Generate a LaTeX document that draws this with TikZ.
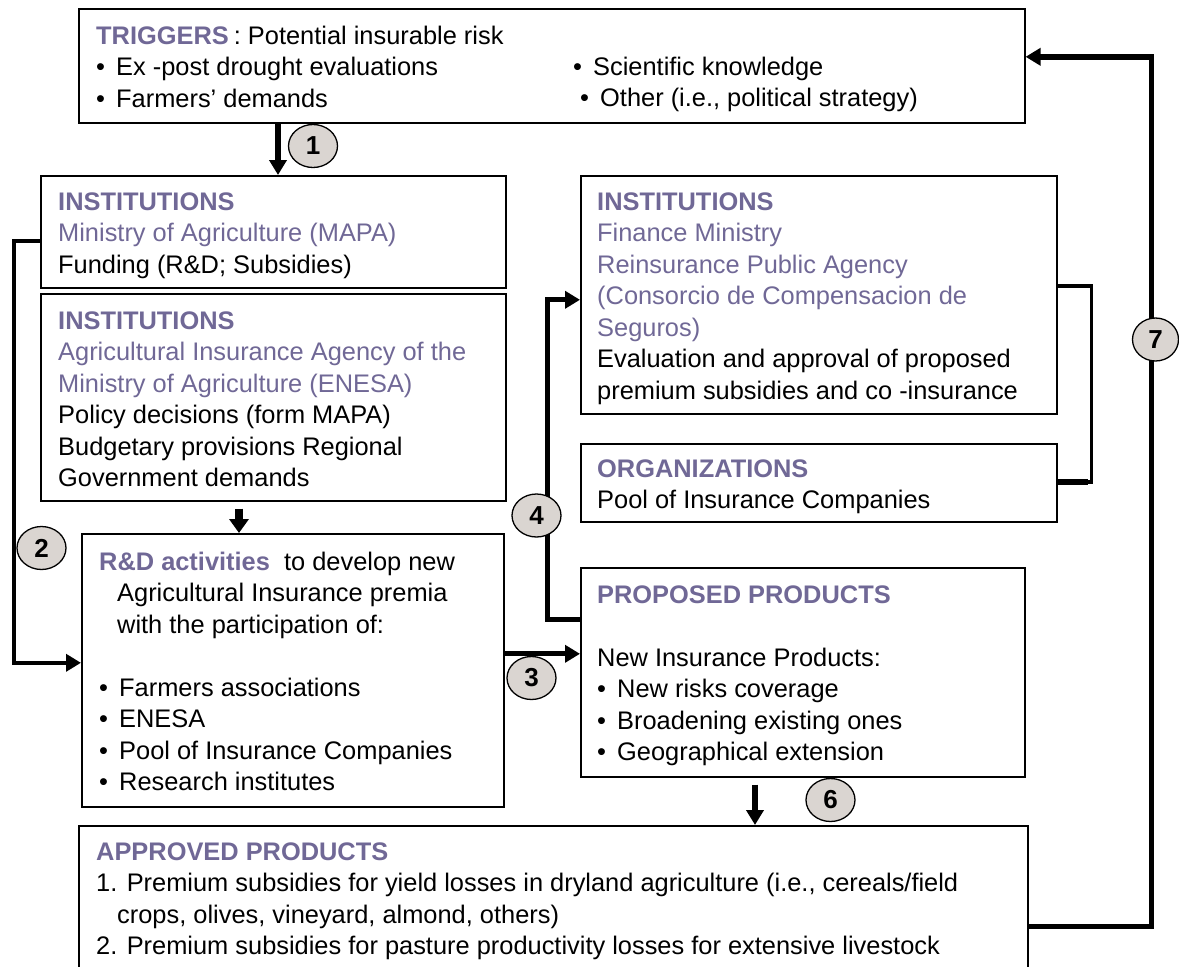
\documentclass[tikz,border=0pt]{standalone}
\usepackage{fontspec}
\setmainfont{Liberation Sans}
\usetikzlibrary{arrows.meta,shapes.geometric}
\definecolor{headcol}{RGB}{112,104,150}
\definecolor{badgecol}{RGB}{218,213,209}
\newcommand{\hdb}[1]{{\bfseries\color{headcol}#1}}
\newcommand{\hdn}[1]{{\color{headcol}#1}}
\newcommand{\bul}{\makebox[20pt][l]{•}}

\begin{document}
\begin{tikzpicture}[x=1pt,y=-1pt,
  panel/.style={draw, line width=1.6pt, inner sep=0pt, anchor=north west},
  % multi-line texts are placed by the baseline of their last line
  txt/.style={anchor=base west, align=left, inner sep=0pt,
              font=\fontsize{25.4}{31.5}\selectfont},
  badge/.style={ellipse, draw, line width=1.3pt, fill=badgecol, inner sep=0pt,
                minimum width=49pt, minimum height=43pt,
                font=\bfseries\fontsize{26}{26}\selectfont},
  conn/.style={line width=5pt, -{Triangle[length=15pt,width=17pt]}},
  plain/.style={line width=3.5pt}]

\useasboundingbox (0,0) rectangle (1179,967);
\clip (0,0) rectangle (1179,967);

% ---- boxes ----
\node[panel, minimum width=946pt, minimum height=114pt] (trig) at (78,8) {};
\node[panel, minimum width=465pt, minimum height=112pt] (mapa) at (40,175) {};
\node[panel, minimum width=465pt, minimum height=207pt] (enesa) at (40,293) {};
\node[panel, minimum width=422pt, minimum height=273pt] (rd) at (81,533) {};
\node[panel, minimum width=476pt, minimum height=238pt] (fin) at (580,175) {};
\node[panel, minimum width=476pt, minimum height=78pt] (org) at (580,443) {};
\node[panel, minimum width=444pt, minimum height=209pt] (prop) at (580,567) {};
\node[panel, minimum width=949pt, minimum height=178pt] (appr) at (78,825) {};

% ---- box texts ----
\node[txt] (trigtxt) at (96,107) {\hdb{TRIGGERS}\hspace{5pt}: Potential insurable risk\\
  \bul Ex -post drought evaluations\\
  \bul Farmers’ demands};
\node[txt] (trigsci) at (573,75) {\bul Scientific knowledge};
\node[txt] (trigoth) at (580,106) {\bul Other (i.e., political strategy)};

\node[txt] (mapatxt) at (58,273) {\hdb{INSTITUTIONS}\\
  \hdn{Ministry of Agriculture (MAPA)}\\
  Funding (R\&D; Subsidies)};

\node[txt] (enesatxt) at (58,486.5) {\hdb{INSTITUTIONS}\\
  \hdn{Agricultural Insurance Agency of the}\\
  \hdn{Ministry of Agriculture (ENESA)}\\
  Policy decisions (form MAPA)\\
  Budgetary provisions Regional\\
  Government demands};

\node[txt] (rdtxt) at (99,790.5) {\hdb{R\&D activities}\ \ to develop new\\
  \hspace*{18pt}Agricultural Insurance premia\\
  \hspace*{18pt}with the participation of:\\[31.5pt]
  \bul Farmers associations\\
  \bul ENESA\\
  \bul Pool of Insurance Companies\\
  \bul Research institutes};

\node[txt] (fintxt) at (597,399) {\hdb{INSTITUTIONS}\\
  \hdn{Finance Ministry}\\
  \hdn{Reinsurance Public Agency}\\
  \hdn{(Consorcio de Compensacion de}\\
  \hdn{Seguros)}\\
  Evaluation and approval of proposed\\
  premium subsidies and co -insurance};

\node[txt] (orgtxt) at (597,508.5) {\hdb{ORGANIZATIONS}\\
  Pool of Insurance Companies};

\node[txt] (proptxt) at (597,760.5) {\hdb{PROPOSED PRODUCTS}\\[31.5pt]
  New Insurance Products:\\
  \bul New risks coverage\\
  \bul Broadening existing ones\\
  \bul Geographical extension};

\node[txt] (apprtxt) at (96,954.5) {\hdb{APPROVED PRODUCTS}\\
  1. Premium subsidies for yield losses in dryland agriculture (i.e., cereals/field\\
  \hspace*{21pt}crops, olives, vineyard, almond, others)\\
  2. Premium subsidies for pasture productivity losses for extensive livestock};

% ---- connectors ----
% 1: triggers -> MAPA
\draw[conn, line width=6pt] ([xshift=200pt]trig.south west) -- ([xshift=238pt]mapa.north west);
% 2: MAPA -> R&D along the left side
\draw[conn, line width=4.5pt] ([yshift=-9pt]mapa.west) -- ++(-26,0) |- ([yshift=7.5pt]rd.west);
% ENESA -> R&D
\draw[conn, line width=8pt, -{Triangle[length=14pt,width=19pt]}, shorten <=7pt]
  ([xshift=199pt]enesa.south west) -- ([xshift=158pt]rd.north west);
% 3: R&D -> proposed products
\coordinate (r3) at ([yshift=16.5pt]rd.east);
\draw[conn, line width=5pt] (r3) -- (r3 -| prop.west);
% 4: proposed products -> finance ministry
\draw[conn, line width=5pt] ([yshift=52.5pt]prop.west) -- ++(-33,0) |- ([yshift=-5pt]fin.west);
% bracket joining finance ministry and insurance pool
\draw[plain] ([yshift=9pt]fin.east) -- ++(34,0) |- ([yshift=1pt]org.east);
\draw[line width=5.5pt] ([yshift=1pt]org.east) -- ++(30,0);
% 6: proposed -> approved
\draw[conn, line width=6pt, shorten <=7pt] ([xshift=175pt]prop.south west) -- ([xshift=677pt]appr.north west);
% 7: approved -> triggers (feedback loop)
\draw[conn, line width=5.5pt] ([yshift=-11.5pt]appr.east) -- ++(123,0) |- ([yshift=9pt]trig.east);

% ---- step badges ----
\node[badge] (b1) at (313,146) {1};
\node[badge] (b2) at (41.5,548) {2};
\node[badge] (b3) at (531.5,678) {3};
\node[badge] (b4) at (536.5,515.5) {4};
\node[badge] (b6) at (830.5,800) {6};
\node[badge, minimum width=46pt] (b7) at (1155.5,339.5) {7};
\end{tikzpicture}
\end{document}
